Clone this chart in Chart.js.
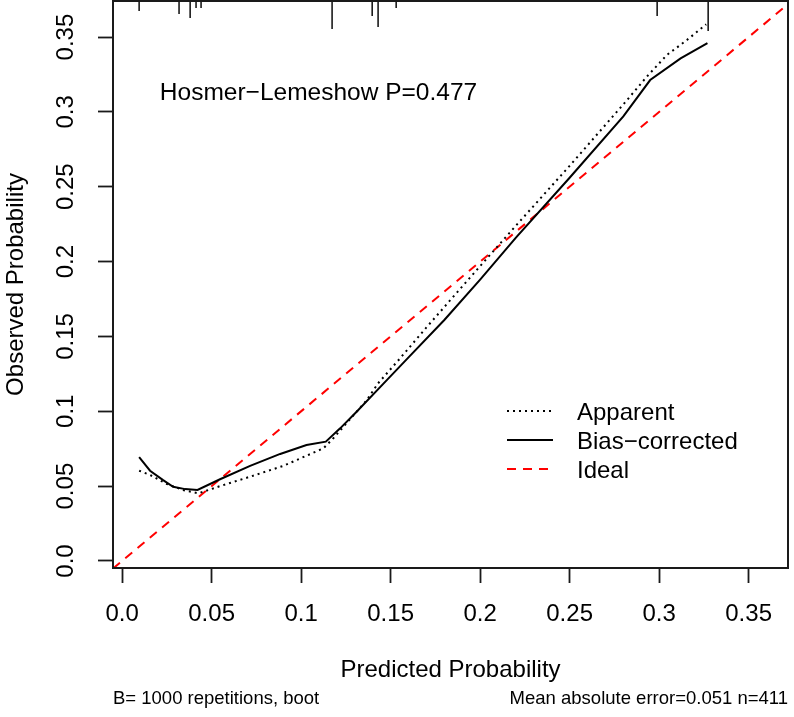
<!DOCTYPE html>
<html>
<head>
<meta charset="utf-8">
<script src="https://cdn.jsdelivr.net/npm/chart.js@4.4.0/dist/chart.umd.min.js"></script>
<style>
  html, body { margin: 0; padding: 0; background: #fff; }
  canvas { display: block; }
</style>
</head>
<body>
<canvas id="chart" width="794" height="717"></canvas>
<script>
const FONT = '"Liberation Sans", Arial, Helvetica, sans-serif';

// calibration curves
const apparentX = [0.0095, 0.0156, 0.025, 0.034, 0.0427, 0.0547, 0.0715, 0.09, 0.1125, 0.118, 0.1237, 0.1367, 0.143, 0.155, 0.17, 0.2, 0.22, 0.25, 0.28, 0.2931, 0.3043, 0.3155, 0.3263];
const apparentY = [0.0603, 0.0575, 0.0514, 0.0474, 0.0452, 0.050, 0.0563, 0.0635, 0.0753, 0.082, 0.0897, 0.1075, 0.1187, 0.135, 0.156, 0.197, 0.224, 0.264, 0.305, 0.3235, 0.338, 0.348, 0.3585];

const biasX = [0.0095, 0.0156, 0.0229, 0.0285, 0.0352, 0.0421, 0.0547, 0.0715, 0.0883, 0.103, 0.1138, 0.1218, 0.131, 0.148, 0.16, 0.18, 0.2, 0.22, 0.25, 0.28, 0.295, 0.312, 0.327];
const biasY = [0.0693, 0.0603, 0.054, 0.0496, 0.048, 0.0474, 0.0546, 0.0635, 0.0715, 0.0775, 0.0797, 0.0886, 0.0997, 0.121, 0.136, 0.161, 0.188, 0.216, 0.256, 0.297, 0.3213, 0.3358, 0.346];

// rug of predicted values along the top (relative frequency)
const rugX = [0.0095, 0.0318, 0.038, 0.0413, 0.0441, 0.1173, 0.1397, 0.143, 0.1531, 0.2989, 0.3274];
const rugFreq = [0.33, 0.43, 0.57, 0.23, 0.23, 0.93, 0.5, 0.87, 0.23, 0.5, 1.0];

const axisTicks = [0, 0.05, 0.1, 0.15, 0.2, 0.25, 0.3, 0.35];
const axisTickLabels = ['0.0', '0.05', '0.1', '0.15', '0.2', '0.25', '0.3', '0.35'];

const X_MIN = -0.0051, X_MAX = 0.372;
const Y_MIN = -0.0047, Y_MAX = 0.3741;

const legendLabels = ['Apparent', 'Bias\u2212corrected', 'Ideal'];
const hlText = 'Hosmer\u2212Lemeshow P=0.477';
const subLeft = 'B= 1000 repetitions, boot';
const subRight = 'Mean absolute error=0.051 n=411';

function toPoints(xs, ys) {
    return xs.map((x, i) => ({ x: x, y: ys[i] }));
}

// keep the plot box where R put it: no extra room for end labels
function fixPadding(s) {
    s.paddingTop = 0;
    s.paddingBottom = 0;
    s.paddingLeft = 0;
    s.paddingRight = 0;
}

const extrasPlugin = {
    id: 'extras',
    afterDraw(chart) {
        const { ctx, chartArea: a, scales: { x } } = chart;
        ctx.save();

        // box
        ctx.strokeStyle = '#1a1a1a';
        ctx.lineWidth = 2;
        ctx.strokeRect(a.left, a.top, a.right - a.left, a.bottom - a.top);

        // rug
        ctx.lineWidth = 1.6;
        rugX.forEach((v, i) => {
            const px = x.getPixelForValue(v);
            ctx.beginPath();
            ctx.moveTo(px, a.top);
            ctx.lineTo(px, a.top + rugFreq[i] * 30);
            ctx.stroke();
        });

        ctx.fillStyle = '#000';
        ctx.font = '24.5px ' + FONT;
        ctx.textAlign = 'center';
        ctx.textBaseline = 'alphabetic';
        ctx.fillText(hlText, 318.5, 99.5);

        // legend
        ctx.font = '24px ' + FONT;
        const rows = [411, 440, 469];
        chart.data.datasets.forEach((ds, i) => {
            ctx.strokeStyle = ds.borderColor;
            ctx.lineWidth = ds.borderWidth;
            ctx.setLineDash(ds.borderDash || []);
            ctx.beginPath();
            ctx.moveTo(507, rows[i]);
            ctx.lineTo(553, rows[i]);
            ctx.stroke();
            ctx.setLineDash([]);
            ctx.textAlign = 'left';
            ctx.fillText(ds.label, 577, rows[i] + 8.5);
        });

        // subtitles
        ctx.font = '18.5px ' + FONT;
        ctx.textAlign = 'left';
        ctx.fillText(subLeft, a.left, 703.5);
        ctx.textAlign = 'right';
        ctx.fillText(subRight, a.right, 703.5);
        ctx.restore();
    }
};

const tickFont = { family: FONT, size: 24 };

new Chart(document.getElementById('chart').getContext('2d'), {
    type: 'line',
    data: {
        datasets: [{
            label: legendLabels[0],
            data: toPoints(apparentX, apparentY),
            borderColor: '#000',
            borderWidth: 2,
            borderDash: [2, 4],
            pointRadius: 0,
            tension: 0,
        },
        {
            label: legendLabels[1],
            data: toPoints(biasX, biasY),
            borderColor: '#000',
            borderWidth: 2,
            pointRadius: 0,
            tension: 0,
        },
        {
            label: legendLabels[2],
            data: [{ x: X_MIN, y: X_MIN }, { x: X_MAX, y: X_MAX }],
            borderColor: '#ff0000',
            borderWidth: 2,
            borderDash: [9, 7],
            pointRadius: 0,
            tension: 0,
        }]
    },
    options: {
        responsive: false,
        animation: false,
        events: [],
        layout: { padding: { top: 1, right: 6, left: 0, bottom: 0 } },
        plugins: { legend: { display: false }, tooltip: { enabled: false } },
        scales: {
            x: {
                type: 'linear',
                min: X_MIN,
                max: X_MAX,
                afterFit: s => { s.height = 149; fixPadding(s); },
                afterBuildTicks: s => { s.ticks = axisTicks.map(v => ({ value: v })); },
                border: { display: false },
                grid: { drawOnChartArea: false, drawTicks: true, tickLength: 15, tickWidth: 1.8, tickColor: '#1a1a1a' },
                ticks: {
                    callback: (v, i) => axisTickLabels[i],
                    font: tickFont, color: '#000', padding: 17, autoSkip: false, maxRotation: 0
                },
                title: { display: true, text: 'Predicted Probability', font: tickFont, color: '#000', padding: { top: 0, bottom: 32 } }
            },
            y: {
                type: 'linear',
                min: Y_MIN,
                max: Y_MAX,
                afterFit: s => { s.width = 113; fixPadding(s); },
                afterBuildTicks: s => { s.ticks = axisTicks.map(v => ({ value: v })); },
                border: { display: false },
                grid: { drawOnChartArea: false, drawTicks: true, tickLength: 15, tickWidth: 1.8, tickColor: '#1a1a1a' },
                ticks: {
                    callback: (v, i) => axisTickLabels[i],
                    font: tickFont, color: '#000', padding: 8, autoSkip: false,
                    minRotation: 90, maxRotation: 90, crossAlign: 'center'
                },
                title: { display: true, text: 'Observed Probability', font: tickFont, color: '#000', padding: { top: 2, bottom: 0 } }
            }
        }
    },
    plugins: [extrasPlugin]
});
</script>
</body>
</html>
